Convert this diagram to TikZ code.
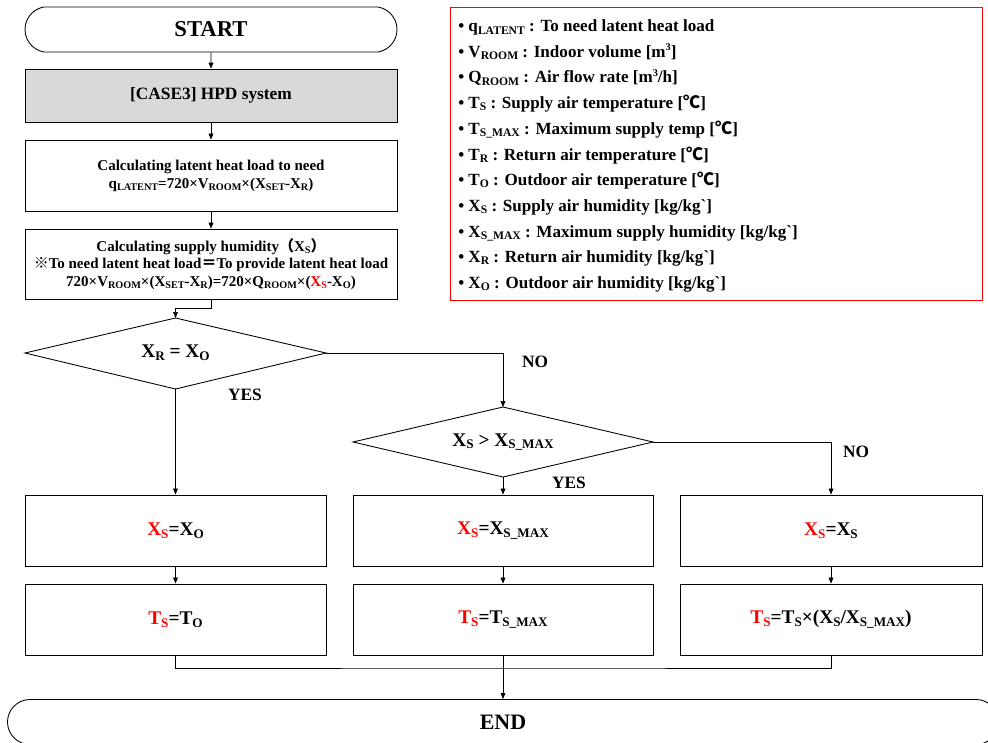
\documentclass[tikz,border=0pt]{standalone}
\usepackage{fontspec}
\setmainfont{Liberation Serif}
\newfontfamily\cjk{Noto Sans CJK SC}
\newfontfamily\rawserif{Liberation Serif}[Ligatures=TeXOff]
\usetikzlibrary{arrows.meta,shapes.geometric,shapes.misc}
\newcommand\mysub[1]{\raisebox{-0.3ex}{\scalebox{0.68}{#1}}}
\newcommand\mysup[1]{\raisebox{0.85ex}{\scalebox{0.6}{#1}}}
\newcommand\bq{{\rawserif\char96}}
\newcommand\rd[1]{\textcolor{red}{#1}}
\begin{document}
\begin{tikzpicture}[x=0.75pt,y=-0.75pt,font=\bfseries,
  box/.style={draw,line width=0.65pt,rectangle,inner sep=0pt,align=center},
  term/.style={draw,line width=0.65pt,rounded rectangle,rounded rectangle arc length=160,inner sep=0pt},
  decline/.style={draw,line width=0.65pt,line join=miter},
  arr/.style={-{Triangle[length=4.5pt,width=3.6pt]},line width=0.55pt},
  ln/.style={line width=0.55pt},
  lbl/.style={font=\fontsize{13}{15}\selectfont\bfseries},
  big/.style={font=\fontsize{14.5}{17}\selectfont\bfseries},
  leg/.style={anchor=base west,inner sep=0pt,font=\fontsize{12.8}{15}\selectfont\bfseries},
]
\useasboundingbox (0,0) rectangle (988,742);

% main column
\node[term,minimum width=279pt,minimum height=33.75pt,font=\fontsize{17}{20}\selectfont\bfseries] (start) at (211,29.5) {START};
\node[box,fill=gray!30,minimum width=279pt,minimum height=39.75pt,font=\fontsize{13}{15}\selectfont\bfseries] (case) at (211,95.5) {[CASE3] HPD system};
\node[box,minimum width=279pt,minimum height=53.25pt,font=\fontsize{11.25}{13.4}\selectfont\bfseries] (calc1) at (211,175.5)
  {Calculating latent heat load to need\\q\mysub{LATENT}=720×V\mysub{ROOM}×(X\mysub{SET}-X\mysub{R})};
\node[box,minimum width=279pt,minimum height=52.5pt,font=\fontsize{11.25}{13.1}\selectfont\bfseries] (calc2) at (211,264)
  {Calculating supply humidity{\cjk （}X\mysub{S}{\cjk ）}\\{\cjk ※}To need latent heat load{\cjk ＝}To provide latent heat load\\720×V\mysub{ROOM}×(X\mysub{SET}-X\mysub{R})=720×Q\mysub{ROOM}×(\rd{X\mysub{S}}-X\mysub{O})};

% decisions (outlines drawn from named corner coordinates)
\coordinate (d1n) at (175.5,318);
\coordinate (d1s) at (175.5,389);
\coordinate (d1w) at (25,353);
\coordinate (d1e) at (326,353);
\draw[decline] (d1n) -- (d1e) -- (d1s) -- (d1w) -- cycle;
\node[big] (dia1) at (175.5,353) {X\mysub{R} = X\mysub{O}};
\coordinate (d2n) at (503,407);
\coordinate (d2s) at (503,477);
\coordinate (d2w) at (353,442);
\coordinate (d2e) at (653,442);
\draw[decline] (d2n) -- (d2e) -- (d2s) -- (d2w) -- cycle;
\node[big] (dia2) at (503,442) {X\mysub{S} > X\mysub{S\_MAX}};

% result boxes
\node[box,big,minimum width=225.75pt,minimum height=53.25pt] (xa) at (175.5,530.5) {\rd{X\mysub{S}}=X\mysub{O}};
\node[box,big,minimum width=225pt,minimum height=53.25pt] (xb) at (503,530.5) {\rd{X\mysub{S}}=X\mysub{S\_MAX}};
\node[box,big,minimum width=226.5pt,minimum height=53.25pt] (xc) at (831,530.5) {\rd{X\mysub{S}}=X\mysub{S}};
\node[box,big,minimum width=225.75pt,minimum height=53.25pt] (ta) at (175.5,619.5) {\rd{T\mysub{S}}=T\mysub{O}};
\node[box,big,minimum width=225pt,minimum height=53.25pt] (tb) at (503,619.5) {\rd{T\mysub{S}}=T\mysub{S\_MAX}};
\node[box,big,minimum width=226.5pt,minimum height=53.25pt] (tc) at (831,619.5) {\rd{T\mysub{S}}=T\mysub{S}×(X\mysub{S}/X\mysub{S\_MAX})};

\node[term,rounded rectangle arc length=180,minimum width=743.25pt,minimum height=33.75pt,font=\fontsize{16.5}{20}\selectfont\bfseries] (end) at (503,722) {END};

% labels
\node[lbl] (no1) at (535,362) {NO};
\node[lbl] (yes1) at (245,395) {YES};
\node[lbl] (no2) at (856,452) {NO};
\node[lbl] (yes2) at (569,483) {YES};

% connectors
\draw[arr] (start) -- (case);
\draw[arr] (case) -- (calc1);
\draw[arr] (calc1) -- (calc2);
\draw[arr] (calc2.south) -- ++(0,9) -| (d1n);
\draw[arr] (d1e) -| (d2n);
\draw[arr] (d1s) -- (xa.north);
\draw[arr] (d2s) -- (xb.north);
\draw[arr] (d2e) -| (xc.north);
\draw[arr] (xa) -- (ta);
\draw[arr] (xb) -- (tb);
\draw[arr] (xc) -- (tc);
\coordinate (m) at (503,668);
\draw[ln] (ta.south) |- (m) -| (tc.south);
\draw[arr] (tb.south) -- (end.north);

% legend
\node[draw=red,line width=0.7pt,minimum width=398.6pt,minimum height=219.75pt,inner sep=0pt] (legend) at (716.25,153.5) {};
\node[leg] (l1) at (458,32) {• q\mysub{LATENT} : To need latent heat load};
\node[leg] (l2) at (458,57.5) {• V\mysub{ROOM} : Indoor volume [m\mysup{3}]};
\node[leg] (l3) at (458,83) {• Q\mysub{ROOM} : Air flow rate [m\mysup{3}/h]};
\node[leg] (l4) at (458,108.5) {• T\mysub{S} : Supply air temperature [{\cjk ℃}]};
\node[leg] (l5) at (458,134) {• T\mysub{S\_MAX} : Maximum supply temp [{\cjk ℃}]};
\node[leg] (l6) at (458,160) {• T\mysub{R} : Return air temperature [{\cjk ℃}]};
\node[leg] (l7) at (458,185.5) {• T\mysub{O} : Outdoor air temperature [{\cjk ℃}]};
\node[leg] (l8) at (458,211) {• X\mysub{S} : Supply air humidity [kg/kg\bq]};
\node[leg] (l9) at (458,237) {• X\mysub{S\_MAX} : Maximum supply humidity [kg/kg\bq]};
\node[leg] (l10) at (458,262) {• X\mysub{R} : Return air humidity [kg/kg\bq]};
\node[leg] (l11) at (458,288) {• X\mysub{O} : Outdoor air humidity [kg/kg\bq]};
\end{tikzpicture}
\end{document}
